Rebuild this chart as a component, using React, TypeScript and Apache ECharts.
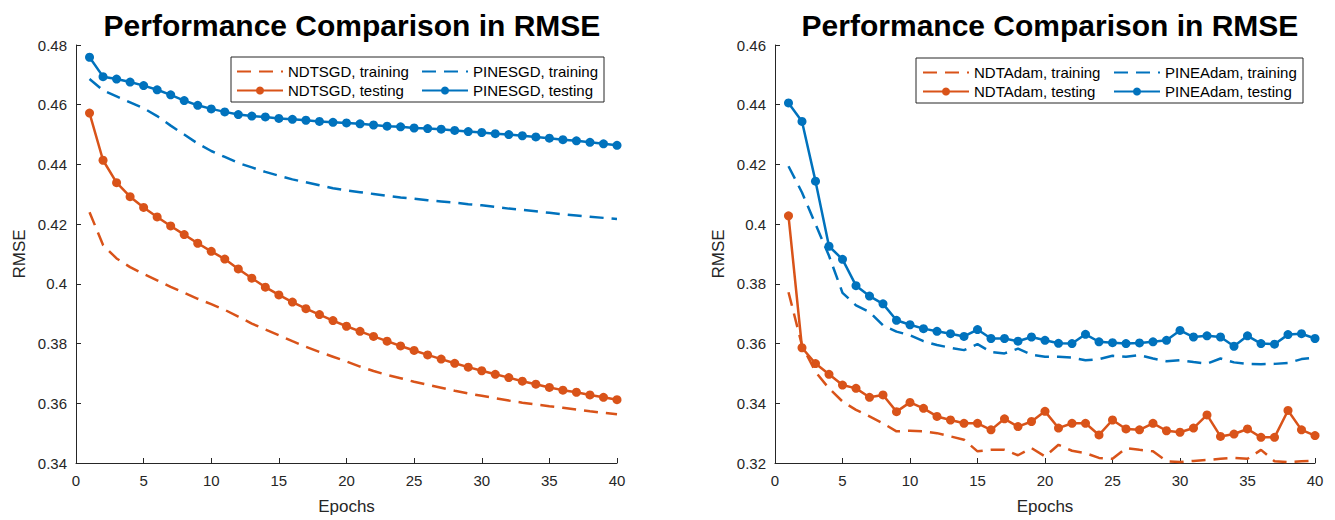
import React, { useEffect, useRef } from "react";
import * as echarts from "echarts";

const epochs = [1,2,3,4,5,6,7,8,9,10,11,12,13,14,15,16,17,18,19,20,21,22,23,24,25,26,27,28,29,30,31,32,33,34,35,36,37,38,39,40];

const titleText = "Performance Comparison in RMSE";
const xName = "Epochs";
const yName = "RMSE";

const sgdNames = ["NDTSGD, training", "NDTSGD, testing", "PINESGD, training", "PINESGD, testing"];
const adamNames = ["NDTAdam, training", "NDTAdam, testing", "PINEAdam, training", "PINEAdam, testing"];

const sgdNdtTrain = [0.4240,0.4130,0.4085,0.4056,0.4033,0.4012,0.3990,0.3970,0.3950,0.3932,0.3913,0.3890,0.3867,0.3847,0.3828,0.3808,0.3789,0.3772,0.3756,0.3740,0.3723,0.3708,0.3695,0.3684,0.3672,0.3662,0.3652,0.3642,0.3633,0.3625,0.3617,0.3609,0.3602,0.3596,0.3590,0.3585,0.3579,0.3573,0.3568,0.3563];
const sgdNdtTest = [0.4572,0.4414,0.4339,0.4292,0.4256,0.4224,0.4194,0.4165,0.4136,0.4109,0.4083,0.4050,0.4019,0.3989,0.3963,0.3939,0.3917,0.3897,0.3877,0.3858,0.3841,0.3824,0.3808,0.3792,0.3777,0.3762,0.3748,0.3734,0.3721,0.3709,0.3697,0.3686,0.3674,0.3664,0.3653,0.3644,0.3637,0.3628,0.3620,0.3612];
const sgdPineTrain = [0.4686,0.4648,0.4628,0.4608,0.4588,0.4562,0.4530,0.4500,0.4470,0.4445,0.4425,0.4405,0.4390,0.4375,0.4362,0.4350,0.4340,0.4330,0.4320,0.4313,0.4307,0.4301,0.4295,0.4289,0.4285,0.4280,0.4276,0.4272,0.4267,0.4263,0.4258,0.4252,0.4248,0.4243,0.4238,0.4233,0.4229,0.4225,0.4221,0.4217];
const sgdPineTest = [0.4759,0.4694,0.4686,0.4676,0.4664,0.4650,0.4633,0.4614,0.4598,0.4586,0.4576,0.4567,0.4562,0.4559,0.4554,0.4551,0.4548,0.4544,0.4541,0.4539,0.4536,0.4532,0.4528,0.4526,0.4522,0.4520,0.4518,0.4514,0.4510,0.4507,0.4503,0.4500,0.4496,0.4492,0.4488,0.4483,0.4479,0.4474,0.4469,0.4464];

const adamNdtTrain = [0.3772,0.3594,0.3505,0.3450,0.3406,0.3378,0.3356,0.3333,0.3306,0.3308,0.3306,0.3300,0.3289,0.3278,0.3239,0.3244,0.3244,0.3226,0.3250,0.3222,0.3261,0.3241,0.3233,0.3217,0.3214,0.3250,0.3244,0.3239,0.3206,0.3203,0.3207,0.3210,0.3214,0.3217,0.3214,0.3244,0.3206,0.3203,0.3206,0.3208];
const adamNdtTest = [0.4028,0.3586,0.3533,0.3497,0.3461,0.3450,0.3420,0.3428,0.3372,0.3403,0.3383,0.3356,0.3344,0.3333,0.3333,0.3311,0.3348,0.3322,0.3339,0.3373,0.3317,0.3333,0.3333,0.3294,0.3344,0.3314,0.3311,0.3333,0.3308,0.3303,0.3317,0.3361,0.3289,0.3297,0.3314,0.3286,0.3286,0.3376,0.3311,0.3292];
const adamPineTrain = [0.4194,0.4106,0.4000,0.3894,0.3770,0.3728,0.3706,0.3661,0.3640,0.3628,0.3608,0.3595,0.3586,0.3578,0.3598,0.3572,0.3567,0.3583,0.3563,0.3556,0.3556,0.3553,0.3544,0.3548,0.3559,0.3556,0.3561,0.3550,0.3541,0.3544,0.3538,0.3533,0.3550,0.3537,0.3532,0.3531,0.3532,0.3535,0.3548,0.3553];
const adamPineTest = [0.4406,0.4344,0.4144,0.3926,0.3882,0.3794,0.3759,0.3733,0.3678,0.3663,0.3650,0.3641,0.3633,0.3624,0.3647,0.3617,0.3617,0.3608,0.3622,0.3611,0.3601,0.3600,0.3631,0.3606,0.3603,0.3600,0.3602,0.3606,0.3611,0.3644,0.3622,0.3626,0.3622,0.3591,0.3626,0.3600,0.3598,0.3630,0.3633,0.3617];

const ORANGE = "#D95319";
const BLUE = "#0072BD";
const AXIS = "#262626";
const FONT = "'Liberation Sans', Arial, Helvetica, sans-serif";
const DASH = [14, 8];

const pair = (ys: number[]) => ys.map((y, i) => [epochs[i], y]);

function lineSeries(name: string, data: number[], color: string, dashed: boolean, idx: number) {
  return {
    type: "line",
    name,
    xAxisIndex: idx,
    yAxisIndex: idx,
    data: pair(data),
    symbol: dashed ? "none" : "circle",
    symbolSize: 9,
    showSymbol: !dashed,
    color,
    itemStyle: { color },
    lineStyle: { color, width: 2.5, type: dashed ? DASH : "solid" },
    emphasis: { disabled: true },
    z: dashed ? 2 : 3,
  };
}

const legendItem = (name: string, dashed: boolean) =>
  dashed ? { name, itemStyle: { opacity: 0 } } : { name };

export default function App() {
  const ref = useRef<HTMLDivElement>(null);
  useEffect(() => {
    if (!ref.current) return;
    const chart = echarts.init(ref.current, undefined, { renderer: "svg" });
    const xAxisBase = (gi: number) => ({
      type: "value",
      gridIndex: gi,
      min: 0,
      max: 40,
      interval: 5,
      name: xName,
      nameLocation: "middle",
      nameGap: 35,
      nameTextStyle: { fontSize: 17, color: AXIS, fontFamily: FONT },
      axisLine: { show: true, lineStyle: { color: AXIS, width: 1 } },
      axisTick: { show: true, inside: true, length: 5, lineStyle: { color: AXIS } },
      axisLabel: { fontSize: 15, color: AXIS, fontFamily: FONT, margin: 10 },
      splitLine: { show: false },
    });
    const yAxisBase = (gi: number, min: number, max: number) => ({
      type: "value",
      gridIndex: gi,
      min,
      max,
      interval: 0.02,
      name: yName,
      nameLocation: "middle",
      nameGap: 48,
      nameTextStyle: { fontSize: 17, color: AXIS, fontFamily: FONT },
      axisLine: { show: true, lineStyle: { color: AXIS, width: 1 } },
      axisTick: { show: true, inside: true, length: 5, lineStyle: { color: AXIS } },
      axisLabel: { fontSize: 15, color: AXIS, fontFamily: FONT, margin: 9 },
      splitLine: { show: false },
    });
    const legendBase = {
      orient: "vertical",
      padding: 0,
      itemGap: 4,
      itemWidth: 46,
      itemHeight: 10,
      textStyle: { fontSize: 15, color: "#000", fontFamily: FONT },
      selectedMode: false,
    };
    const option = {
      animation: false,
      backgroundColor: "#fff",
      title: [
        { text: titleText, left: 347, top: 5, textAlign: "center", textStyle: { fontSize: 30, fontWeight: "bold", color: "#000", fontFamily: FONT } },
        { text: titleText, left: 1045, top: 5, textAlign: "center", textStyle: { fontSize: 30, fontWeight: "bold", color: "#000", fontFamily: FONT } },
      ],
      grid: [
        { left: 76, top: 45, width: 541, height: 419, containLabel: false },
        { left: 775, top: 45, width: 540, height: 419, containLabel: false },
      ],
      xAxis: [xAxisBase(0), xAxisBase(1)],
      yAxis: [yAxisBase(0, 0.34, 0.48), yAxisBase(1, 0.32, 0.46)],
      legend: [
        { ...legendBase, left: 236, top: 64, data: [legendItem(sgdNames[0], true), legendItem(sgdNames[1], false)] },
        { ...legendBase, left: 421, top: 64, data: [legendItem(sgdNames[2], true), legendItem(sgdNames[3], false)] },
        { ...legendBase, left: 922, top: 65, data: [legendItem(adamNames[0], true), legendItem(adamNames[1], false)] },
        { ...legendBase, left: 1113, top: 65, data: [legendItem(adamNames[2], true), legendItem(adamNames[3], false)] },
      ],
      graphic: [
        { type: "rect", shape: { x: 231, y: 57, width: 373, height: 45 }, style: { fill: "#fff", stroke: AXIS, lineWidth: 1 }, z: 1 },
        { type: "rect", shape: { x: 916, y: 58, width: 387, height: 45 }, style: { fill: "#fff", stroke: AXIS, lineWidth: 1 }, z: 1 },
      ],
      series: [
        lineSeries(sgdNames[0], sgdNdtTrain, ORANGE, true, 0),
        lineSeries(sgdNames[1], sgdNdtTest, ORANGE, false, 0),
        lineSeries(sgdNames[2], sgdPineTrain, BLUE, true, 0),
        lineSeries(sgdNames[3], sgdPineTest, BLUE, false, 0),
        lineSeries(adamNames[0], adamNdtTrain, ORANGE, true, 1),
        lineSeries(adamNames[1], adamNdtTest, ORANGE, false, 1),
        lineSeries(adamNames[2], adamPineTrain, BLUE, true, 1),
        lineSeries(adamNames[3], adamPineTest, BLUE, false, 1),
      ],
    };
    chart.setOption(option as any);
    return () => chart.dispose();
  }, []);
  return <div ref={ref} style={{ position: "absolute", left: 0, top: 0, width: 1335, height: 520 }} />;
}
